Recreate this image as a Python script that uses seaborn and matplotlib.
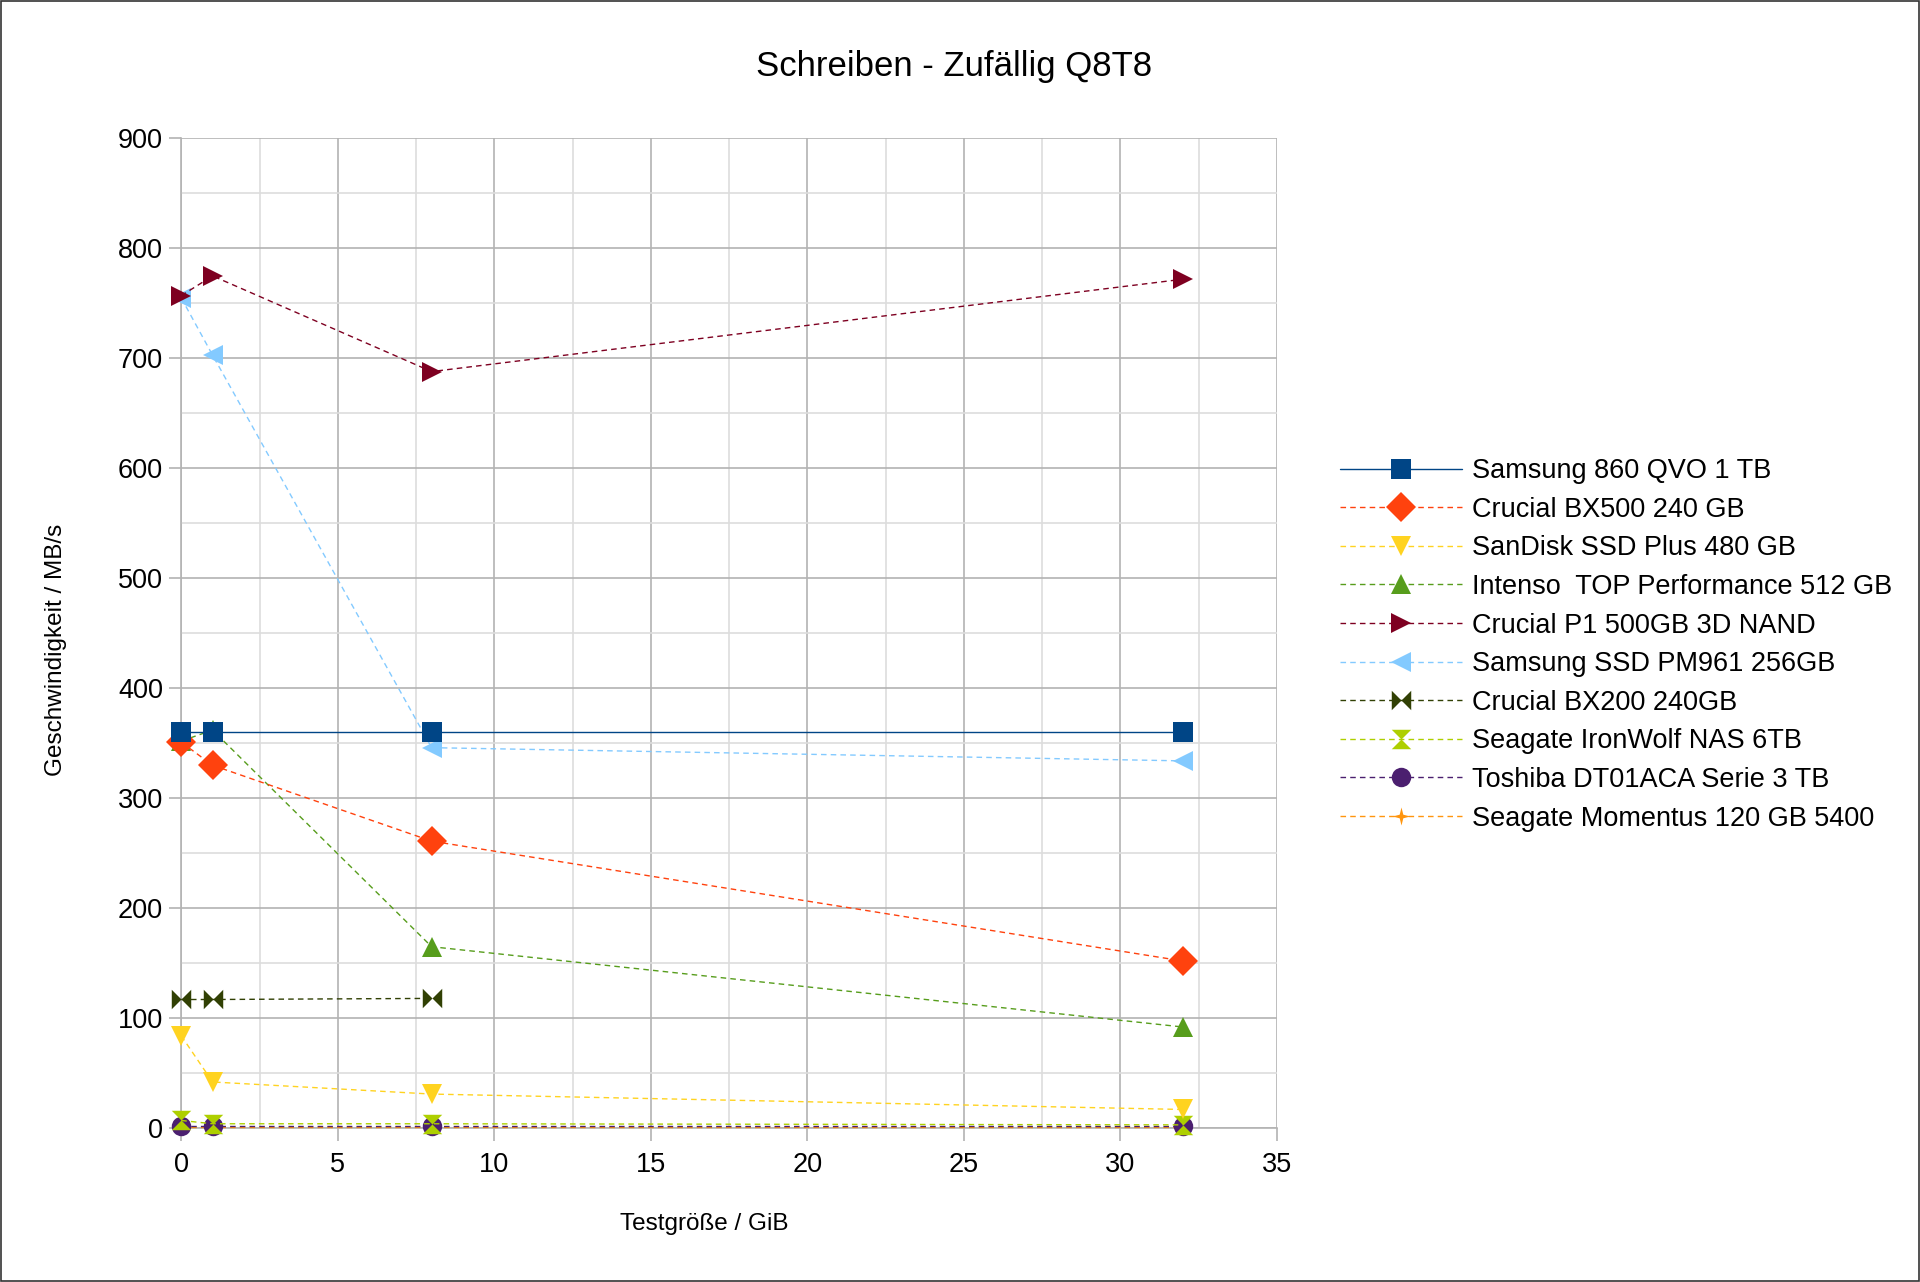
import matplotlib
matplotlib.use("Agg")
import matplotlib.pyplot as plt
from matplotlib.path import Path
from matplotlib.ticker import MultipleLocator
import seaborn as sns

sns.set_theme(style="white")
plt.rcParams['font.family'] = ['Liberation Sans', 'DejaVu Sans']
plt.rcParams['text.color'] = 'black'
plt.rcParams['xtick.color'] = 'black'
plt.rcParams['ytick.color'] = 'black'

# data: write speeds (MB/s) per test size (GiB)
labels = ["Samsung 860 QVO 1 TB", "Crucial BX500 240 GB", "SanDisk SSD Plus 480 GB",
          "Intenso  TOP Performance 512 GB", "Crucial P1 500GB 3D NAND",
          "Samsung SSD PM961 256GB", "Crucial BX200 240GB", "Seagate IronWolf NAS 6TB",
          "Toshiba DT01ACA Serie 3 TB", "Seagate Momentus 120 GB 5400"]
sizes = [0, 1, 8, 32]
sizes_bx200 = [0, 1, 8]
qvo = [360, 360, 360, 360]
bx500 = [351, 330, 261, 152]
sandisk = [84, 42, 31, 17]
intenso = [352, 362, 165, 92]
p1 = [757, 775, 688, 772]
pm961 = [755, 703, 346, 334]
bx200 = [117, 117, 118]
ironwolf = [7, 4, 4, 3]
toshiba = [2, 2, 2, 2]
momentus = [1, 1, 1, 1]

colors = ["#004586", "#ff420e", "#ffd320", "#579d1c", "#7e0021",
          "#83caff", "#314004", "#aecf00", "#4b1f6f", "#ff950e"]

# custom marker shapes
bowtie = Path([(-1, 1), (0, 0), (1, 1), (1, -1), (0, 0), (-1, -1), (-1, 1)])
hourglass = Path([(-1, 1), (1, 1), (0, 0), (1, -1), (-1, -1), (0, 0), (-1, 1)])
star4 = Path([(0, 1), (0.2, 0.2), (1, 0), (0.2, -0.2), (0, -1), (-0.2, -0.2),
              (-1, 0), (-0.2, 0.2), (0, 1)])
markers = ["s", "D", "v", "^", ">", "<", bowtie, hourglass, "o", star4]
msizes = [14, 15, 15, 15, 15, 15, 14, 14, 14, 13]

series = [(sizes, qvo), (sizes, bx500), (sizes, sandisk), (sizes, intenso),
          (sizes, p1), (sizes, pm961), (sizes_bx200, bx200), (sizes, ironwolf),
          (sizes, toshiba), (sizes, momentus)]

fig = plt.figure(figsize=(19.2, 12.82), dpi=100)
ax = fig.add_axes([0.0944, 0.12, 0.5706, 0.772])

for i, (xs, ys) in enumerate(series):
    sns.lineplot(x=xs, y=ys, ax=ax, color=colors[i], marker=markers[i],
                 markersize=msizes[i], markeredgewidth=0, linewidth=1.0,
                 linestyle="-" if i == 0 else (0, (4, 3)), label=labels[i],
                 sort=False, zorder=20 - i, clip_on=False)

ax.set_xlim(0, 35)
ax.set_ylim(0, 900)
ax.xaxis.set_major_locator(MultipleLocator(5))
ax.xaxis.set_minor_locator(MultipleLocator(2.5))
ax.yaxis.set_major_locator(MultipleLocator(100))
ax.yaxis.set_minor_locator(MultipleLocator(50))
ax.grid(which="major", color="#b3b3b3", linewidth=1.2)
ax.grid(which="minor", color="#dddddd", linewidth=1.2)
ax.set_axisbelow(True)
for s in ["top", "right"]:
    ax.spines[s].set_visible(False)
for s in ["left", "bottom"]:
    ax.spines[s].set_color("#b3b3b3")
    ax.spines[s].set_linewidth(1.2)
ax.tick_params(which="major", direction="out", length=9, width=1.2,
               color="#b3b3b3", labelcolor="black", labelsize=19.5, bottom=True, left=True)
ax.tick_params(axis="x", which="major", pad=8)
ax.tick_params(axis="y", which="major", pad=4)
ax.tick_params(which="minor", length=0)
ax.set_xlabel("")
ax.set_ylabel("")

fig.text(0.497, 0.948, "Schreiben - Zufällig Q8T8", ha="center", va="center", fontsize=25)
fig.text(0.367, 0.045, "Testgröße / GiB", ha="center", va="center", fontsize=17.5)
fig.text(0.029, 0.493, "Geschwindigkeit / MB/s", ha="center", va="center",
         rotation=90, fontsize=17.5)

leg = ax.legend(loc="center left", bbox_to_anchor=(0.698, 0.497),
                bbox_transform=fig.transFigure, frameon=False, fontsize=19.5,
                handlelength=4.5, handletextpad=0.35, labelspacing=0.465,
                borderpad=0, borderaxespad=0)

# outer frame
fig.patches.append(plt.Rectangle((0.0005, 0.0005), 0.999, 0.999, transform=fig.transFigure,
                                 fill=False, edgecolor="#333333", linewidth=1.2))

fig.savefig("out.png", dpi=100)
